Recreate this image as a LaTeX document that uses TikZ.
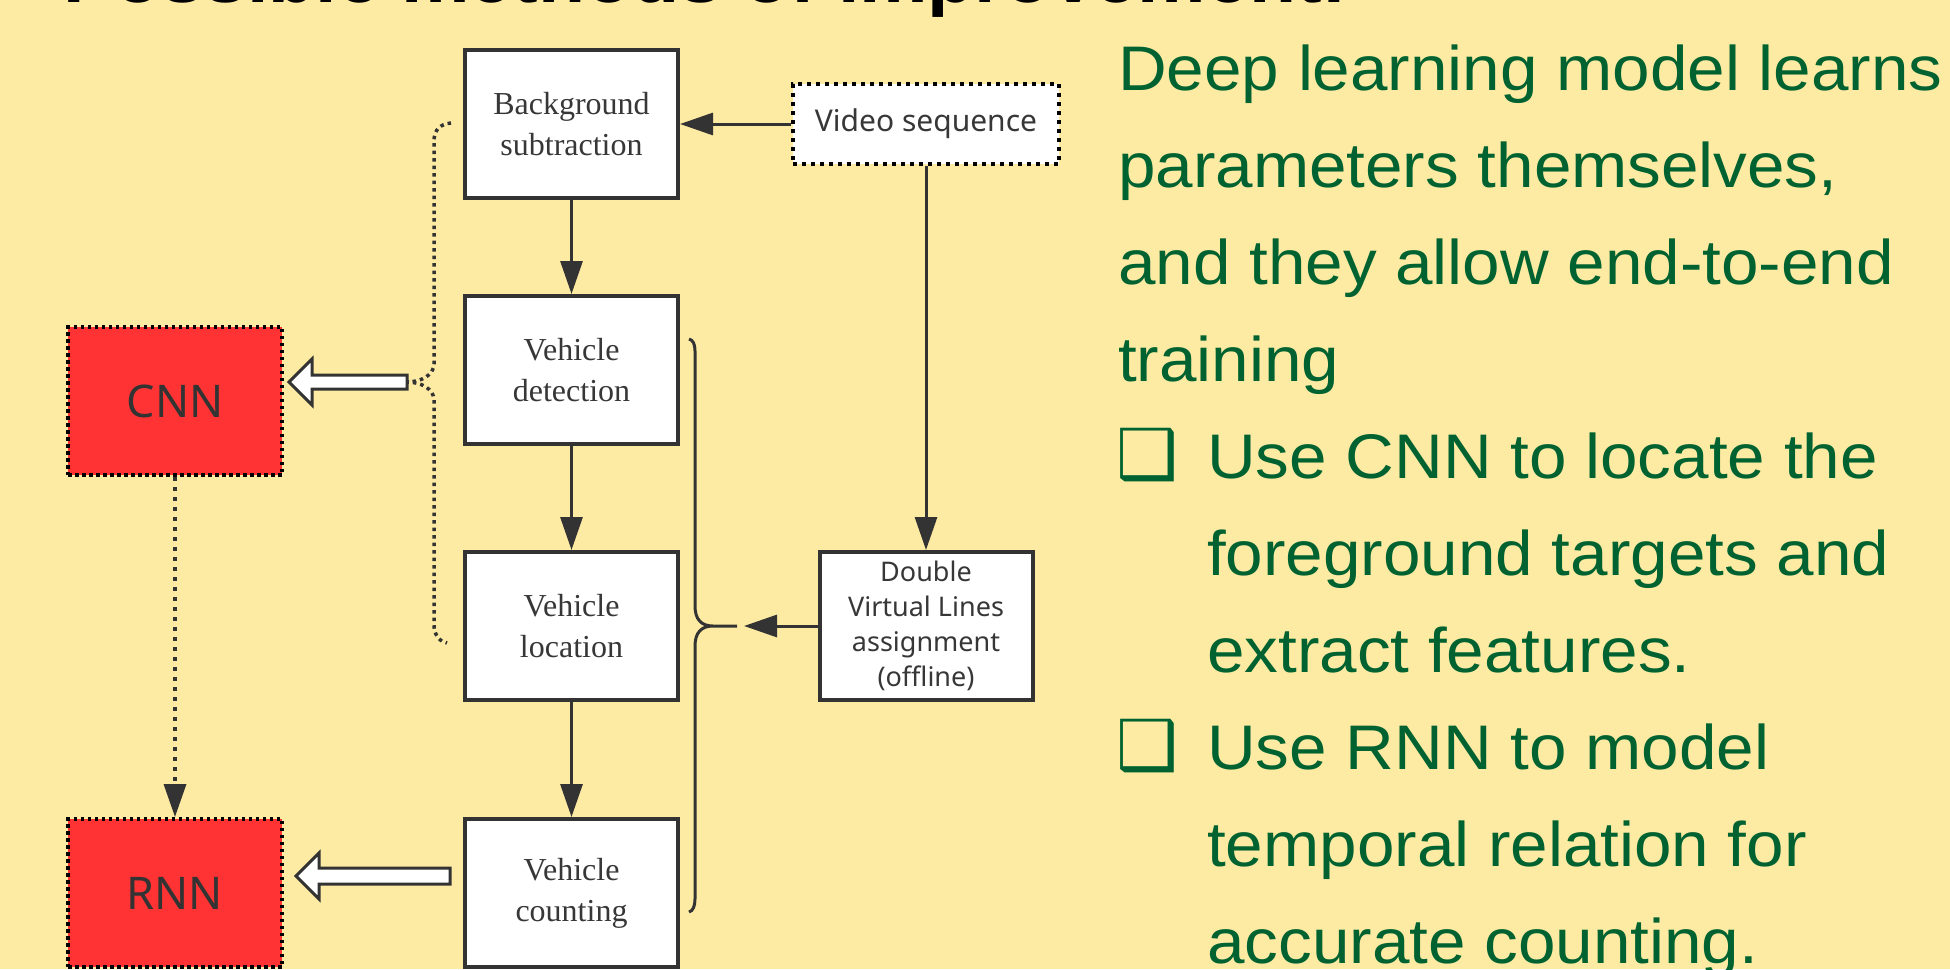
\documentclass[tikz,border=0pt]{standalone}
\usepackage{fontspec}
\setmainfont{Liberation Sans}
\newfontfamily\bodyfont[FakeStretch=1.07]{Liberation Sans}
\newfontfamily\boxserif{Liberation Serif}
\newfontfamily\boxsans{Noto Sans}
\newfontfamily\symfont{DejaVu Sans}
\usetikzlibrary{arrows.meta}
\definecolor{bgyellow}{RGB}{254,235,163}
\definecolor{txtgreen}{RGB}{0,98,48}
\definecolor{dk}{RGB}{51,51,51}
\definecolor{boxtext}{RGB}{55,55,55}
\definecolor{nnred}{RGB}{255,51,51}
\begin{document}
\begin{tikzpicture}[x=1pt,y=-1pt,
  procbox/.style={draw=dk, line width=4pt, fill=white, minimum width=213pt, minimum height=148pt,
    inner sep=0pt, align=center, text=boxtext, font=\boxserif\fontsize{32}{41}\selectfont},
  sansbox/.style={procbox, font=\boxsans\fontsize{27}{35}\selectfont},
  dotbox/.style={draw=black, line width=4pt, dash pattern=on 4pt off 5pt, fill=white,
    minimum width=266pt, minimum height=80pt, inner sep=0pt, text=boxtext,
    font=\boxsans\fontsize{30}{36}\selectfont},
  nnbox/.style={draw=black, line width=4pt, dash pattern=on 3.5pt off 3.5pt, fill=nnred,
    minimum width=214pt, minimum height=148pt, inner sep=0pt, text=dk,
    font=\boxsans\fontsize{45}{50}\selectfont},
  arr/.style={draw=dk, line width=3pt, -{Triangle[length=33pt,width=22pt]}},
  dotarr/.style={arr, line width=3.5pt, dash pattern=on 4pt off 6pt},
  dotbrace/.style={draw=dk, line width=3.5pt, dash pattern=on 3.5pt off 4pt},
  brace/.style={draw=dk, line width=3pt},
  barrow/.style={draw=dk, line width=3pt, fill=white, line join=miter},
  body/.style={anchor=base west, inner sep=0pt, text=txtgreen, font=\bodyfont\fontsize{63}{70}\selectfont},
  bullet/.style={anchor=base west, inner sep=0pt, text=txtgreen, font=\symfont\fontsize{69}{69}\selectfont},
  titletext/.style={anchor=base west, inner sep=0pt, text=black, font=\bodyfont\bfseries\fontsize{72}{80}\selectfont}
]
\useasboundingbox (0,0) rectangle (1950,969);
\clip (0,0) rectangle (1950,969);
\fill[bgyellow] (0,0) rectangle (1950,969);

% title (cut off by the top edge)
\node[titletext] (title) at (63,2) {Possible methods of improvement:};

% process boxes
\node[procbox] (bg) at (571.5,124) {Background\\subtraction};
\node[procbox] (vd) at (571.5,370) {Vehicle\\detection};
\node[procbox] (vl) at (571.5,626) {Vehicle\\location};
\node[procbox] (vc) at (571.5,893) {Vehicle\\counting};
\node[dotbox] (vs) at (926,124) {Video sequence};
\node[sansbox] (dvl) at (926,626) {Double\\Virtual Lines\\assignment\\(offline)};
\node[nnbox] (cnn) at (175,401) {CNN};
\node[nnbox] (rnn) at (175,893) {RNN};

% connectors
\draw[arr] (vs.west) -- (bg.east);
\draw[arr] (bg.south) -- (vd.north);
\draw[arr] (vd.south) -- (vl.north);
\draw[arr] (vl.south) -- (vc.north);
\draw[arr] (vs.south) -- (dvl.north);
\draw[dotarr] (cnn.south) -- (rnn.north);

% right brace with arrow from the double virtual lines box
\coordinate (btip) at (737,626);
\coordinate (bend) at (744,626);
\draw[brace] (689,339) .. controls (693,340) and (695,344) .. (695,351) -- (695,606)
  .. controls (695,619) and (701,626) .. (713,626) -- (btip)
  (713,626) .. controls (701,626) and (695,633) .. (695,646) -- (695,899)
  .. controls (695,906) and (693,911) .. (689,912);
\draw[arr] (dvl.west) -- (bend);

% dotted left brace
\coordinate (dtip) at (407,382);
\draw[dotbrace] (451,123) .. controls (440,124) and (434,130) .. (434,141) -- (434,364)
  .. controls (434,375) and (421,382) .. (dtip)
  .. controls (421,382) and (434,389) .. (434,400) -- (434,625)
  .. controls (434,635) and (440,642) .. (447,643);

% hollow block arrows
\coordinate (cnntip) at (289,382);
\draw[barrow] (cnntip) -- ++(23,-23) -- ++(0,16) -- ++(95,0) -- ++(0,14) -- ++(-95,0) -- ++(0,16) -- cycle;
\coordinate (rnntip) at (296,876);
\draw[barrow] (rnntip) -- ++(23,-23) -- ++(0,15) -- ++(131,0) -- ++(0,16) -- ++(-131,0) -- ++(0,15) -- cycle;

% body text
\node[body] (l1) at (1118,90) {Deep learning model learns};
\node[body] (l2) at (1118,187) {parameters themselves,};
\node[body] (l3) at (1118,284) {and they allow end-to-end};
\node[body] (l4) at (1118,381) {training};
\node[bullet] (b1) at (1116,478) {❑};
\node[body] (l5) at (1207,478) {Use CNN to locate the};
\node[body] (l6) at (1207,575) {foreground targets and};
\node[body] (l7) at (1207,672) {extract features.};
\node[bullet] (b2) at (1116,769) {❑};
\node[body] (l8) at (1207,769) {Use RNN to model};
\node[body] (l9) at (1207,866) {temporal relation for};
\node[body] (l10) at (1207,963) {accurate counting.};
\end{tikzpicture}
\end{document}
